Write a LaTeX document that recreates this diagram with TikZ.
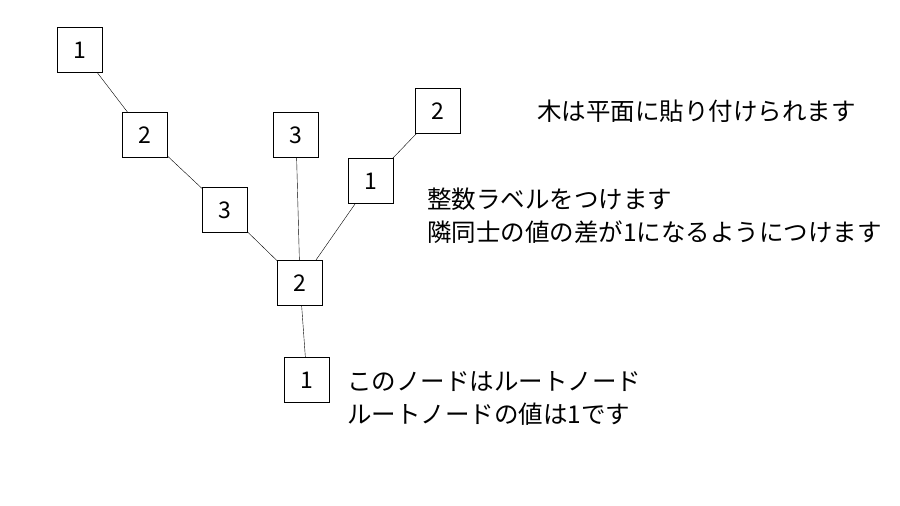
\documentclass[tikz,border=0pt]{standalone}
\usepackage{fontspec}
\setmainfont{Noto Sans CJK JP}
\begin{document}
\begin{tikzpicture}[x=1pt,y=-1pt,
  box/.style={draw,thin,minimum width=45pt,minimum height=45pt,inner sep=0pt,font=\fontsize{23pt}{26pt}\selectfont},
  lbl/.style={anchor=west,align=left,inner sep=0pt,font=\fontsize{24.5pt}{33pt}\selectfont},
  edge/.style={draw,thin}]
\useasboundingbox[fill=white] (0,0) rectangle (900,506);
\node[box] (a) at (80,50) {1};
\node[box] (b) at (145,135) {2};
\node[box] (c) at (225,210) {3};
\node[box] (d) at (300,283) {2};
\node[box] (e) at (307,380) {1};
\node[box] (f) at (296,135) {3};
\node[box] (g) at (371,181) {1};
\node[box] (h) at (438,111) {2};
\draw[edge] (a) -- (b);
\draw[edge] (b) -- (c);
\draw[edge] (c) -- (d);
\draw[edge] (f) -- (d);
\draw[edge] (g) -- (d);
\draw[edge] (h) -- (g);
\draw[edge] (d) -- (e);
\node[lbl] (t1) at (537,111) {木は平面に貼り付けられます};
\node[lbl] (t2) at (427,216) {整数ラベルをつけます\\隣同士の値の差が1になるようにつけます};
\node[lbl] (t3) at (347,398) {このノードはルートノード\\ルートノードの値は1です};
\end{tikzpicture}
\end{document}
